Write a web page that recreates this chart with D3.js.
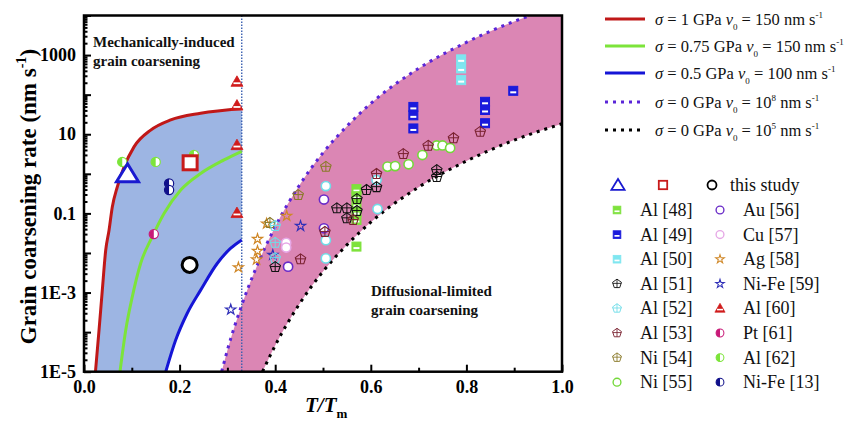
<!DOCTYPE html>
<html>
<head>
<meta charset="utf-8">
<script src="https://cdn.jsdelivr.net/npm/d3@7"></script>
<style>
  body { margin: 0; background: #fff; }
  svg { display: block; font-family: "Liberation Serif", "Times New Roman", serif; }
</style>
</head>
<body>
<script>
// model curves: [T/Tm, rate]
const curveRed = [[0.024, 1e-5], [0.0314, 1.1e-4], [0.0383, 1.15e-3], [0.0454, 0.0117], [0.0523, 0.037], [0.0592, 0.145],
  [0.0697, 0.47], [0.0837, 1.48], [0.1046, 4.8], [0.1395, 12.7], [0.1814, 23], [0.244, 34], [0.33, 45]];
const curveGreen = [[0.0753, 1e-5], [0.0872, 1.1e-4], [0.101, 7.8e-4], [0.1186, 5.5e-3], [0.1429, 0.026], [0.1674, 0.1],
  [0.2023, 0.39], [0.244, 1.02], [0.2929, 2.24], [0.33, 3.7]];
const curveBlue = [[0.171, 1e-5], [0.1918, 6.3e-5], [0.216, 3.0e-4], [0.244, 1.15e-3], [0.279, 5.5e-3], [0.307, 0.0132], [0.33, 0.0214]];
const curveV8 = [[0.288, 1e-5], [0.30, 3.5e-5], [0.33, 4.8e-4], [0.36, 4.2e-3], [0.40, 0.046], [0.45, 0.5], [0.50, 3.4],
  [0.55, 16], [0.60, 60], [0.70, 460], [0.80, 2100], [0.90, 7100], [0.933, 1e4]];
const curveV5 = [[0.3735, 1e-5], [0.40, 4.6e-5], [0.45, 5e-4], [0.50, 3.4e-3], [0.55, 0.016], [0.60, 0.06], [0.70, 0.46],
  [0.80, 2.1], [0.90, 7.1], [1.0, 18.4]];
const boundaryT = 0.33;

// experimental points
const studyTri = [[0.091, 1.0]];
const studySq = [[0.222, 1.9]];
const studyCirc = [[0.221, 0.005]];
const al48 = [[0.57, 0.41], [0.57, 0.27], [0.57, 0.17], [0.57, 0.108], [0.57, 0.068], [0.57, 0.0145]];
const al49 = [[0.689, 49], [0.689, 30], [0.689, 14], [0.839, 66], [0.839, 41], [0.839, 19], [0.898, 125]];
const al50 = [[0.789, 780], [0.789, 460], [0.789, 233]];
const al51 = [[0.529, 0.134], [0.55, 0.134], [0.55, 0.075], [0.571, 0.23], [0.571, 0.115], [0.591, 0.39], [0.612, 0.46],
  [0.738, 1.24], [0.738, 0.83], [0.40, 0.0044]];
const al52 = [[0.40, 0.048], [0.40, 0.018], [0.40, 0.0074]];
const al52Round = [[0.506, 0.49], [0.506, 0.021], [0.506, 0.0073], [0.614, 0.129], [0.612, 0.70]];
const al53 = [[0.612, 0.99], [0.668, 3.15], [0.72, 5.1], [0.773, 7.9], [0.829, 11.5], [0.453, 0.0069], [0.504, 0.034], [0.563, 0.068]];
const ni54 = [[0.448, 0.29], [0.506, 1.5], [0.389, 0.057]];
const ni55 = [[0.635, 1.52], [0.651, 1.57], [0.679, 1.74], [0.708, 2.98], [0.738, 5.2], [0.75, 5.2], [0.766, 4.5]];
const au56 = [[0.502, 0.224], [0.502, 0.042], [0.427, 0.0045]];
const cu57 = [[0.423, 0.018], [0.423, 0.0137]];
const ag58 = [[0.424, 0.086], [0.382, 0.055], [0.363, 0.0225], [0.363, 0.0112], [0.361, 0.0068], [0.323, 0.0043]];
const nife59 = [[0.453, 0.048], [0.395, 0.0089], [0.307, 0.00037]];
const al60 = [[0.32, 211], [0.32, 53], [0.32, 5.3], [0.32, 0.102]];
const pt61 = [[0.146, 0.03]];
const al62 = [[0.08, 2.0], [0.15, 2.0], [0.23, 3.0]];
const nife13 = [[0.178, 0.57], [0.178, 0.39]];

const xTicks = [0, 0.2, 0.4, 0.6, 0.8, 1.0];
const yTickLabels = { '-5': '1E-5', '-3': '1E-3', '-1': '0.1', '1': '10', '3': '1000' };

const width = 856;
const height = 427;
const plotL = 84, plotR = 562, plotT = 15.5, plotB = 371.7;

const svg = d3.select('body').append('svg')
  .attr('width', width)
  .attr('height', height);

const x = d3.scaleLinear().domain([0, 1]).range([plotL, plotR]);
const y = d3.scaleLog().domain([1e-5, 1e4]).range([plotB, plotT]);

svg.append('clipPath').attr('id', 'plot')
  .append('rect').attr('x', plotL).attr('y', plotT).attr('width', plotR - plotL).attr('height', plotB - plotT);

const plot = svg.append('g').attr('clip-path', 'url(#plot)');

const line = d3.line()
  .x((d) => x(d[0]))
  .y((d) => y(d[1]))
  .curve(d3.curveMonotoneX);

// blue region: under red, above blue, left of the boundary
const redEnd = curveRed[curveRed.length - 1];
const blueRev = curveBlue.slice().reverse();
let bluePath = line(curveRed);
bluePath += `L${x(boundaryT)},${y(redEnd[1])}`;
bluePath += 'L' + line(blueRev).slice(1);
bluePath += `L${x(curveRed[0][0])},${y(1e-5)}Z`;
plot.append('path').attr('d', bluePath).attr('fill', '#9db5e3');

// pink band between the two sigma = 0 curves
const v5Rev = curveV5.slice().reverse();
let pinkPath = line(curveV8);
pinkPath += `L${x(1)},${y(1e4)}`;
pinkPath += 'L' + line(v5Rev).slice(1);
pinkPath += 'Z';
plot.append('path').attr('d', pinkPath).attr('fill', '#db86b4');

// boundary line
plot.append('line')
  .attr('x1', x(boundaryT)).attr('x2', x(boundaryT))
  .attr('y1', plotT).attr('y2', plotB)
  .attr('stroke', '#3a5fb0').attr('stroke-width', 1.4).attr('stroke-dasharray', '1.5,1.5');

const curves = [
  { data: curveRed, color: '#c01818', dash: null },
  { data: curveGreen, color: '#7ce43a', dash: null },
  { data: curveBlue, color: '#1515d6', dash: null },
  { data: curveV8, color: '#5a25d8', dash: '3,5' },
  { data: curveV5, color: '#000', dash: '3,5' }
];
curves.forEach((c) => {
  plot.append('path')
    .attr('d', line(c.data))
    .attr('fill', 'none')
    .attr('stroke', c.color)
    .attr('stroke-width', 3)
    .attr('stroke-dasharray', c.dash);
});

// marker drawing
const pentagon = (r) => d3.range(5).map((i) => {
  const a = -Math.PI / 2 + i * 2 * Math.PI / 5;
  return [r * Math.cos(a), r * Math.sin(a)];
});

function marker(g, type, color, cx, cy, s = 1) {
  const m = g.append('g').attr('transform', `translate(${cx},${cy}) scale(${s})`);
  if (type === 'sqStripe') {
    m.append('rect').attr('x', -4.5).attr('y', -4.5).attr('width', 9).attr('height', 9)
      .attr('fill', color).attr('stroke', color).attr('stroke-width', 1);
    m.append('rect').attr('x', -3).attr('y', 0.5).attr('width', 6).attr('height', 2).attr('fill', '#fff');
  } else if (type === 'pent') {
    const p = pentagon(5.5);
    m.append('path').attr('d', 'M' + p.join('L') + 'Z')
      .attr('fill', 'none').attr('stroke', color).attr('stroke-width', 1.1);
    m.append('path').attr('d', 'M0,-5.5V4.4M-5,-0.5H5')
      .attr('fill', 'none').attr('stroke', color).attr('stroke-width', 1);
  } else if (type === 'circ') {
    m.append('circle').attr('r', 4.6).attr('fill', '#fff').attr('stroke', color).attr('stroke-width', 1.6);
  } else if (type === 'star') {
    m.append('path').attr('d', d3.symbol(d3.symbolStar, 32)())
      .attr('fill', 'none').attr('stroke', color).attr('stroke-width', 1.2);
  } else if (type === 'triStripe') {
    m.append('path').attr('d', 'M0,-6L6,4.5L-6,4.5Z').attr('fill', color).attr('stroke', color).attr('stroke-width', 0.8);
    m.append('rect').attr('x', -3.5).attr('y', 0.5).attr('width', 7).attr('height', 1.8).attr('fill', '#fff');
  } else if (type === 'half') {
    m.append('circle').attr('r', 4.6).attr('fill', '#fff').attr('stroke', color).attr('stroke-width', 1.2);
    m.append('path').attr('d', 'M0,-4.6A4.6,4.6 0 0 0 0,4.6Z').attr('fill', color);
  } else if (type === 'bigTri') {
    m.append('path').attr('d', 'M0,-10L11,8L-11,8Z').attr('fill', '#fff').attr('stroke', color).attr('stroke-width', 3);
  } else if (type === 'bigSq') {
    m.append('rect').attr('x', -7).attr('y', -7).attr('width', 14).attr('height', 14)
      .attr('fill', '#fff').attr('stroke', color).attr('stroke-width', 3);
  } else if (type === 'bigCirc') {
    m.append('circle').attr('r', 7.5).attr('fill', '#fff').attr('stroke', color).attr('stroke-width', 3);
  }
  return m;
}

const series = [
  { data: al48, type: 'sqStripe', color: '#7ee23c', label: 'Al [48]' },
  { data: al49, type: 'sqStripe', color: '#1a1adc', label: 'Al [49]' },
  { data: al50, type: 'sqStripe', color: '#7fe6f0', label: 'Al [50]' },
  { data: al51, type: 'pent', color: '#111', label: 'Al [51]' },
  { data: al52, type: 'pent', color: '#6fdde8', label: 'Al [52]' },
  { data: al53, type: 'pent', color: '#7a2230', label: 'Al [53]' },
  { data: ni54, type: 'pent', color: '#8a7a2a', label: 'Ni [54]' },
  { data: ni55, type: 'circ', color: '#74d83a', label: 'Ni [55]' },
  { data: au56, type: 'circ', color: '#6a2cc8', label: 'Au [56]' },
  { data: cu57, type: 'circ', color: '#e6a8e6', label: 'Cu [57]' },
  { data: ag58, type: 'star', color: '#d08828', label: 'Ag [58]' },
  { data: nife59, type: 'star', color: '#3030b8', label: 'Ni-Fe [59]' },
  { data: al60, type: 'triStripe', color: '#d01c1c', label: 'Al [60]' },
  { data: pt61, type: 'half', color: '#c81a78', label: 'Pt [61]' },
  { data: al62, type: 'half', color: '#7ce43a', label: 'Al [62]' },
  { data: nife13, type: 'half', color: '#10108a', label: 'Ni-Fe [13]' }
];

const pointsLayer = plot.append('g');
const drawOrder = [0, 1, 2, 8, 9, 7, 10, 11, 6, 4, 3, 5, 12, 13, 14, 15];
drawOrder.forEach((i) => {
  const s = series[i];
  s.data.forEach((d) => marker(pointsLayer, s.type, s.color, x(d[0]), y(d[1])));
  if (i === 4) {
    al52Round.forEach((d) => marker(pointsLayer, 'circ', s.color, x(d[0]), y(d[1])));
  }
});
studyTri.forEach((d) => marker(pointsLayer, 'bigTri', '#1a1ad0', x(d[0]), y(d[1])));
studySq.forEach((d) => marker(pointsLayer, 'bigSq', '#c81a1a', x(d[0]), y(d[1])));
studyCirc.forEach((d) => marker(pointsLayer, 'bigCirc', '#000', x(d[0]), y(d[1])));

// annotations
const ann = svg.append('g').attr('font-weight', 'bold').attr('font-size', 15).attr('fill', '#111');
ann.append('text').attr('x', 93).attr('y', 47).text('Mechanically-induced');
ann.append('text').attr('x', 93).attr('y', 66).text('grain coarsening');
ann.append('text').attr('x', 371).attr('y', 296).text('Diffusional-limited');
ann.append('text').attr('x', 371).attr('y', 315).text('grain coarsening');

// axes
const decades = d3.range(-5, 5).map((e) => Math.pow(10, e));
const minors = [];
d3.range(-5, 4).forEach((e) => d3.range(2, 10).forEach((m) => minors.push(m * Math.pow(10, e))));

const yAxis = d3.axisLeft(y).tickValues(decades).tickSize(-7).tickPadding(8)
  .tickFormat((d) => yTickLabels[Math.round(Math.log10(d))] || '');
const yMinor = d3.axisLeft(y).tickValues(minors).tickSize(-3.5).tickFormat('');
const xAxis = d3.axisBottom(x).tickValues(xTicks).tickSize(-7).tickPadding(9).tickFormat(d3.format('.1f'));
const xMinor = d3.axisBottom(x).tickValues([0.1, 0.3, 0.5, 0.7, 0.9]).tickSize(-4).tickFormat('');

function styleAxis(g) {
  g.select('.domain').remove();
  g.selectAll('line').attr('stroke', '#000').attr('stroke-width', 2);
  g.selectAll('text').attr('font-family', '"Liberation Serif", serif').attr('font-weight', 'bold')
    .attr('font-size', 18).attr('fill', '#000');
}

svg.append('g').attr('transform', `translate(${plotL},0)`).call(yAxis).call(styleAxis);
svg.append('g').attr('transform', `translate(${plotL},0)`).call(yMinor).call(styleAxis);
svg.append('g').attr('transform', `translate(0,${plotB})`).call(xAxis).call(styleAxis);
svg.append('g').attr('transform', `translate(0,${plotB})`).call(xMinor).call(styleAxis);

svg.append('rect')
  .attr('x', plotL).attr('y', plotT).attr('width', plotR - plotL).attr('height', plotB - plotT)
  .attr('fill', 'none').attr('stroke', '#000').attr('stroke-width', 2.5);

// axis titles
const yTitle = svg.append('text')
  .attr('transform', `translate(36,${(plotT + plotB) / 2 + 3}) rotate(-90)`)
  .attr('text-anchor', 'middle')
  .attr('font-weight', 'bold').attr('font-size', 23);
yTitle.append('tspan').text('Grain coarsening rate (nm s');
yTitle.append('tspan').attr('dy', -10).attr('font-size', 14).text('-1');
yTitle.append('tspan').attr('dy', 10).text(')');

const xTitle = svg.append('text')
  .attr('x', 305).attr('y', 412)
  .attr('font-weight', 'bold').attr('font-style', 'italic').attr('font-size', 21);
xTitle.append('tspan').text('T/T');
xTitle.append('tspan').attr('dy', 6).attr('font-size', 13).attr('font-style', 'normal').text('m');

// legend
const legend = svg.append('g').attr('font-size', 16.5).attr('fill', '#111');
const lineLegend = [
  { color: '#c01818', dash: null, sigma: '1', v0: '150', exp: null, y: 19 },
  { color: '#7ce43a', dash: null, sigma: '0.75', v0: '150', exp: null, y: 46 },
  { color: '#1515d6', dash: null, sigma: '0.5', v0: '100', exp: null, y: 73 },
  { color: '#5a25d8', dash: '3,5', sigma: '0', v0: '10', exp: '8', y: 102 },
  { color: '#000', dash: '3,5', sigma: '0', v0: '10', exp: '5', y: 130 }
];
lineLegend.forEach((l) => {
  legend.append('line')
    .attr('x1', 605).attr('x2', 645).attr('y1', l.y).attr('y2', l.y)
    .attr('stroke', l.color).attr('stroke-width', 3).attr('stroke-dasharray', l.dash);
  const t = legend.append('text').attr('x', 655).attr('y', l.y + 6);
  t.append('tspan').attr('font-style', 'italic').text('σ');
  t.append('tspan').text(` = ${l.sigma} GPa `);
  t.append('tspan').attr('font-style', 'italic').text('ν');
  t.append('tspan').attr('dy', 5).attr('font-size', 9).text('0');
  t.append('tspan').attr('dy', -5).text(` = ${l.v0}`);
  if (l.exp) {
    t.append('tspan').attr('dy', -7).attr('font-size', 9).text(l.exp);
    t.append('tspan').attr('dy', 7).text(' nm s');
  } else {
    t.append('tspan').text(' nm s');
  }
  t.append('tspan').attr('dy', -7).attr('font-size', 9).text('-1');
});

const symLegend = svg.append('g');
marker(symLegend, 'bigTri', '#1a1ad0', 618, 185, 0.6);
marker(symLegend, 'bigSq', '#c81a1a', 663, 185, 0.6);
marker(symLegend, 'bigCirc', '#000', 712, 185, 0.6);
legend.append('text').attr('x', 730).attr('y', 191).attr('font-size', 18).text('this study');

series.forEach((s, i) => {
  const col = Math.floor(i / 8);
  const row = i % 8;
  const cy = 210 + row * 24.6;
  const sx = col === 0 ? 617 : 720;
  marker(symLegend, s.type, s.color, sx, cy, 0.85);
  legend.append('text').attr('x', col === 0 ? 640 : 743).attr('y', cy + 6).attr('font-size', 18).text(s.label);
});
</script>
</body>
</html>
